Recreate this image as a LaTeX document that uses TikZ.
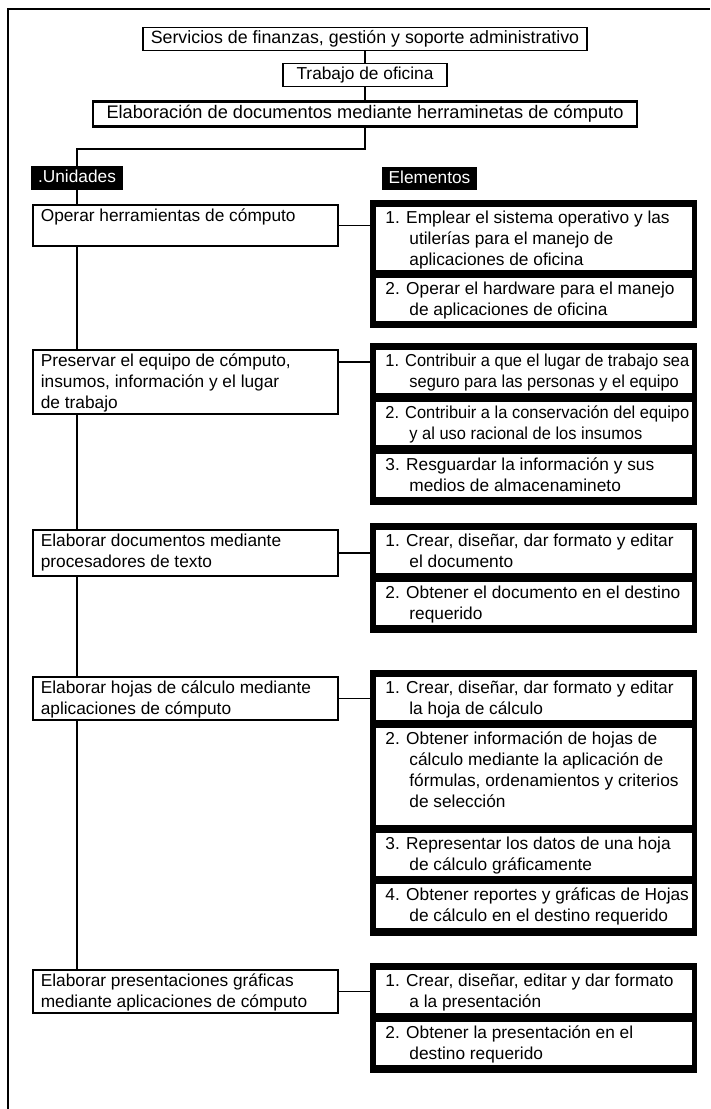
\documentclass[tikz,border=0pt]{standalone}
\usepackage{fontspec}
\usepackage{graphicx}
\setmainfont{Liberation Sans}
\usetikzlibrary{calc}

% continuation line of a numbered element, with hanging indent
\newcommand\hnl{\\\hspace*{24pt}}
% fixed-height text cell: height, width, lines
\newcommand\cellbox[3]{\parbox[t][#1][t]{#2}{\begin{tabular}[t]{@{}l@{}}\rule{0pt}{17pt}#3\end{tabular}}}
\newcommand\squeeze[1]{\scalebox{0.95}[1]{#1}}

\begin{document}
\begin{tikzpicture}[x=1pt,y=-1pt,
  every node/.style={font=\fontsize{17.3}{21}\selectfont},
  frameline/.style={line width=1.8pt},
  hdr/.style={draw, line width=1.6pt, fill=white, inner sep=0pt, minimum height=23pt,
    text height=12.5pt, text depth=3.5pt},
  tagbox/.style={fill=black, text=white, inner sep=0pt, minimum height=24pt,
    text height=12.5pt, text depth=3.5pt},
  unitbox/.style={draw, line width=1.6pt, fill=white, anchor=north west,
    inner xsep=8pt, inner ysep=0pt},
  grpbox/.style={fill=black, anchor=north west, inner sep=0pt, minimum width=327pt},
  elembox/.style={draw, line width=0.8pt, fill=white, anchor=north west,
    inner xsep=10pt, inner ysep=0pt},
  conn/.style={line width=1.6pt}]

\useasboundingbox (0,0) rectangle (710,1109);

% outer frame
\draw[frameline] (8,1109) -- (8,9) -- (710,9);

% header chain
\node[hdr, minimum width=444pt, font=\fontsize{17.8}{21}\selectfont] (h1) at (365,39)
  {Servicios de finanzas, gestión y soporte administrativo};
\node[hdr, minimum width=164pt] (h2) at (365,75) {Trabajo de oficina};
\node[hdr, minimum width=544pt, minimum height=25pt, line width=2.6pt,
  font=\fontsize{18.2}{21}\selectfont] (h3) at (365,114)
  {Elaboración de documentos mediante herraminetas de cómputo};

\coordinate (turn) at (77,149);

% column titles
\node[tagbox, minimum width=92pt] (unid) at (77,178) {.Unidades};
\node[tagbox, minimum width=95pt, minimum height=23pt] (elem) at (429.5,178.5) {Elementos};

% units
\node[unitbox] (u1) at (32,204) {\cellbox{41pt}{289pt}{Operar herramientas de cómputo}};
\node[unitbox] (u2) at (32,349) {\cellbox{64pt}{289pt}{Preservar el equipo de cómputo,\\insumos, información y el lugar\\de trabajo}};
\node[unitbox] (u3) at (32,529) {\cellbox{46pt}{289pt}{Elaborar documentos mediante\\procesadores de texto}};
\node[unitbox] (u4) at (32,676) {\cellbox{43pt}{289pt}{Elaborar hojas de cálculo mediante\\aplicaciones de cómputo}};
\node[unitbox] (u5) at (32,969) {\cellbox{43pt}{289pt}{Elaborar presentaciones gráficas\\mediante aplicaciones de cómputo}};

% element groups
\node[grpbox, minimum height=128pt] (g1) at (370,200) {};
\node[grpbox, minimum height=162pt] (g2) at (370,343) {};
\node[grpbox, minimum height=110pt] (g3) at (370,523) {};
\node[grpbox, minimum height=266pt] (g4) at (370,670) {};
\node[grpbox, minimum height=110pt] (g5) at (370,963) {};

% elements
\node[elembox] (e11) at (375,206) {\cellbox{64pt}{297pt}{1. Emplear el sistema operativo y las\hnl utilerías para el manejo de\hnl aplicaciones de oficina}};
\node[elembox] (e12) at (375,277) {\cellbox{44pt}{297pt}{2. Operar el hardware para el manejo\hnl de aplicaciones de oficina}};

\node[elembox] (e21) at (375,349) {\cellbox{44pt}{297pt}{\squeeze{1. Contribuir a que el lugar de trabajo sea}\hnl \squeeze{seguro para las personas y el equipo}}};
\node[elembox] (e22) at (375,401) {\cellbox{44pt}{297pt}{\squeeze{2. Contribuir a la conservación del equipo}\hnl \squeeze{y al uso racional de los insumos}}};
\node[elembox] (e23) at (375,453) {\cellbox{44pt}{297pt}{3. Resguardar la información y sus\hnl medios de almacenamineto}};

\node[elembox] (e31) at (375,529) {\cellbox{44pt}{297pt}{1. Crear, diseñar, dar formato y editar\hnl el documento}};
\node[elembox] (e32) at (375,581) {\cellbox{44pt}{297pt}{2. Obtener el documento en el destino\hnl requerido}};

\node[elembox] (e41) at (375,676) {\cellbox{44pt}{297pt}{1. Crear, diseñar, dar formato y editar\hnl la hoja de cálculo}};
\node[elembox] (e42) at (375,727) {\cellbox{98pt}{297pt}{2. Obtener información de hojas de\hnl cálculo mediante la aplicación de\hnl fórmulas, ordenamientos y criterios\hnl de selección}};
\node[elembox] (e43) at (375,832) {\cellbox{44pt}{297pt}{3. Representar los datos de una hoja\hnl de cálculo gráficamente}};
\node[elembox] (e44) at (375,883) {\cellbox{45pt}{297pt}{4. Obtener reportes y gráficas de Hojas\hnl de cálculo en el destino requerido}};

\node[elembox] (e51) at (375,969) {\cellbox{44pt}{297pt}{1. Crear, diseñar, editar y dar formato\hnl a la presentación}};
\node[elembox] (e52) at (375,1021) {\cellbox{44pt}{297pt}{2. Obtener la presentación en el\hnl destino requerido}};

% connectors
\coordinate (c2) at (0,362);
\draw[conn] (h1.south) -- (h2.north);
\draw[conn] (h2.south) -- (h3.north);
\draw[conn] (h3.south) |- (turn) -- (unid.north);
\draw[conn] (unid.south) -- (unid.south |- u1.north);
\draw[conn] (unid.south |- u1.south) -- (unid.south |- u2.north);
\draw[conn] (unid.south |- u2.south) -- (unid.south |- u3.north);
\draw[conn] (unid.south |- u3.south) -- (unid.south |- u4.north);
\draw[conn] (unid.south |- u4.south) -- (unid.south |- u5.north);
\draw[conn] (u1.east) -- (u1.east -| g1.west);
\draw[conn] (u2.east |- c2) -- (g2.west |- c2);
\draw[conn] (u3.east) -- (u3.east -| g3.west);
\draw[conn] (u4.east) -- (u4.east -| g4.west);
\draw[conn] (u5.east) -- (u5.east -| g5.west);
\end{tikzpicture}
\end{document}
